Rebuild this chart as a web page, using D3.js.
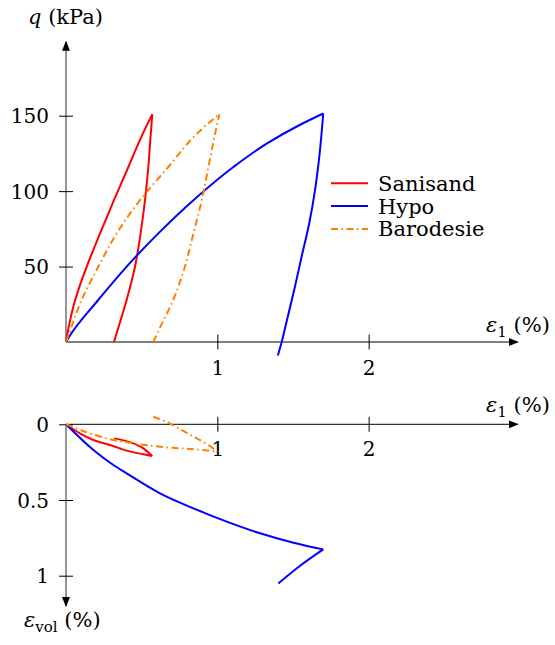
<!DOCTYPE html>
<html>
<head>
<meta charset="utf-8">
<script src="https://cdn.jsdelivr.net/npm/d3@7"></script>
<style>
    body { margin: 0; background: #fff; }
    svg text { font-family: "DejaVu Serif", serif; font-size: 20px; fill: #000; }
</style>
</head>
<body>
<svg id="chart" width="555" height="645"></svg>
<script>
// q - eps1 panel (eps1 in %, q in kPa)
const sanisandLoadEps = [0, 0.02, 0.05, 0.09, 0.137, 0.225, 0.317, 0.412, 0.507, 0.57];
const sanisandLoadQ = [0, 11, 24, 37, 50, 72, 94, 116, 138, 151];
const sanisandUnloadEps = [0.57, 0.56, 0.544, 0.522, 0.493, 0.456, 0.401, 0.335, 0.317];
const sanisandUnloadQ = [151, 138, 116, 94, 72, 50, 28, 6, 0];

const hypoLoadEps = [0, 0.037, 0.214, 0.401, 0.61, 0.842, 1.106, 1.326, 1.547, 1.70];
const hypoLoadQ = [0, 6, 28, 50, 72, 94, 116, 131.5, 144, 151.5];
const hypoUnloadEps = [1.70, 1.674, 1.646, 1.608, 1.558, 1.509, 1.454, 1.425, 1.40];
const hypoUnloadQ = [151.5, 123, 101, 79, 57, 35, 12, 0, -9];

const barodesieLoadEps = [0, 0.022, 0.104, 0.214, 0.335, 0.489, 0.676, 0.864, 1.013];
const barodesieLoadQ = [0, 6, 28, 50, 72, 94, 116, 138, 151];
const barodesieUnloadEps = [1.013, 0.985, 0.941, 0.897, 0.842, 0.786, 0.709, 0.604, 0.577];
const barodesieUnloadQ = [151, 138, 116, 94, 72, 50, 28, 6, 0];

// eps_vol - eps1 panel (both in %)
const sanisandVolLoadEps = [0, 0.092, 0.181, 0.291, 0.401, 0.511, 0.57];
const sanisandVolLoad = [0, 0.06, 0.104, 0.137, 0.174, 0.198, 0.21];
const sanisandVolUnloadEps = [0.57, 0.511, 0.445, 0.379, 0.317];
const sanisandVolUnload = [0.21, 0.159, 0.126, 0.106, 0.093];

const hypoVolLoadEps = [0, 0.181, 0.313, 0.401, 0.621, 0.842, 1.062, 1.282, 1.503, 1.70];
const hypoVolLoad = [0, 0.17, 0.269, 0.324, 0.456, 0.555, 0.643, 0.72, 0.782, 0.826];
const hypoVolUnloadEps = [1.70, 1.547, 1.403];
const hypoVolUnload = [0.826, 0.934, 1.051];

const barodesieVolLoadEps = [0, 0.159, 0.291, 0.401, 0.621, 0.842, 1.0];
const barodesieVolLoad = [0, 0.06, 0.099, 0.119, 0.148, 0.165, 0.18];
const barodesieVolUnloadEps = [1.0, 0.93, 0.84, 0.75, 0.687, 0.577];
const barodesieVolUnload = [0.18, 0.13, 0.08, 0.03, -0.005, -0.05];

const xTicks = [1, 2];
const qTicks = [50, 100, 150];
const volTicks = [0, 0.5, 1];

const names = ["Sanisand", "Hypo", "Barodesie"];
const colors = ["#ff0000", "#0000ff", "#ff8000"];
const dashes = [null, null, "7,3.5,1.5,3.5"];

const series = [
    {
        top: [[sanisandLoadEps, sanisandLoadQ], [sanisandUnloadEps, sanisandUnloadQ]],
        bottom: [[sanisandVolLoadEps, sanisandVolLoad], [sanisandVolUnloadEps, sanisandVolUnload]]
    },
    {
        top: [[hypoLoadEps, hypoLoadQ], [hypoUnloadEps, hypoUnloadQ]],
        bottom: [[hypoVolLoadEps, hypoVolLoad], [hypoVolUnloadEps, hypoVolUnload]]
    },
    {
        top: [[barodesieLoadEps, barodesieLoadQ], [barodesieUnloadEps, barodesieUnloadQ]],
        bottom: [[barodesieVolLoadEps, barodesieVolLoad], [barodesieVolUnloadEps, barodesieVolUnload]]
    }
];

const svg = d3.select("#chart");

const x = d3.scaleLinear().domain([0, 3]).range([66, 520]);
const yTop = d3.scaleLinear().domain([0, 150]).range([342, 115.7]);
const yBot = d3.scaleLinear().domain([0, 1]).range([424.3, 575.7]);

// arrow head
svg.append("defs")
    .append("marker")
    .attr("id", "arrow")
    .attr("markerUnits", "userSpaceOnUse")
    .attr("viewBox", "0 -5 10 10")
    .attr("refX", 9)
    .attr("refY", 0)
    .attr("markerWidth", 10)
    .attr("markerHeight", 10)
    .attr("orient", "auto")
    .append("path")
    .attr("d", "M0,-4L10,0L0,4Z")
    .attr("fill", "#000");

function axisLine(x1, y1, x2, y2, color, width) {
    svg.append("line")
        .attr("x1", x1).attr("y1", y1)
        .attr("x2", x2).attr("y2", y2)
        .attr("stroke", color)
        .attr("stroke-width", width)
        .attr("marker-end", "url(#arrow)");
}

// x axes
function xAxis(yPos, labelY) {
    const g = svg.append("g")
        .attr("transform", `translate(0,${yPos})`)
        .call(d3.axisBottom(x).tickValues(xTicks).tickFormat(d3.format("d")).tickSize(7.5));
    g.select(".domain").remove();
    g.selectAll(".tick line").attr("y1", -7.5).attr("y2", 7.5).attr("stroke", "#000");
    g.selectAll(".tick text")
        .attr("y", labelY).attr("dy", null)
        .style("font-family", "DejaVu Serif").style("font-size", "20px");
}

function yAxis(scale, ticks, fmt) {
    const g = svg.append("g")
        .attr("transform", `translate(${x(0)},0)`)
        .call(d3.axisLeft(scale).tickValues(ticks).tickFormat(fmt).tickSize(7));
    g.select(".domain").remove();
    g.selectAll(".tick line").attr("x1", -7).attr("x2", 7).attr("stroke", "#000");
    g.selectAll(".tick text")
        .attr("x", -17).attr("dy", "0.36em")
        .style("font-family", "DejaVu Serif").style("font-size", "20px");
}

// top panel axes
axisLine(x(0), yTop(0), x(0), yTop(199), "#707070", 1.5);
axisLine(x(0), yTop(0), x(2.985), yTop(0), "#000", 1);
xAxis(yTop(0), 33);
yAxis(yTop, qTicks, d3.format("d"));

// bottom panel axes
axisLine(x(0), yBot(0), x(0), yBot(1.2), "#707070", 1.5);
axisLine(x(0), yBot(0), x(2.985), yBot(0), "#000", 1);
xAxis(yBot(0), 32);
yAxis(yBot, volTicks, d3.format(""));

// curves: top branches are monotone in q, bottom branches monotone in eps1
const lineTop = d3.line()
    .x((d) => x(d[0]))
    .y((d) => yTop(d[1]))
    .curve(d3.curveMonotoneY);
const lineBot = d3.line()
    .x((d) => x(d[0]))
    .y((d) => yBot(d[1]))
    .curve(d3.curveMonotoneX);

function branch(eps, vals, key) {
    const pts = eps.map((e, k) => [e, vals[k]]);
    return pts.sort((a, b) => a[key] - b[key]);
}

function drawPath(pts, line, i) {
    svg.append("path")
        .datum(pts)
        .attr("fill", "none")
        .attr("stroke", colors[i])
        .attr("stroke-width", 2)
        .attr("stroke-linejoin", "round")
        .attr("stroke-dasharray", dashes[i])
        .attr("d", line);
}

series.forEach((s, i) => {
    s.top.forEach(([eps, vals]) => drawPath(branch(eps, vals, 1), lineTop, i));
    s.bottom.forEach(([eps, vals]) => drawPath(branch(eps, vals, 0), lineBot, i));
});

// axis titles
const qLabel = svg.append("text").attr("x", 28).attr("y", 24).style("font-size", "21px");
qLabel.append("tspan").style("font-style", "italic").text("q");
qLabel.append("tspan").text(" (kPa)");

function epsLabel(px, py, sub) {
    const t = svg.append("text").attr("x", px).attr("y", py).style("font-size", "21px");
    t.append("tspan").style("font-style", "italic").text("ε");
    t.append("tspan").attr("dy", 5).style("font-size", "15px").text(sub);
    t.append("tspan").attr("dy", -5).text(" (%)");
}
epsLabel(486, 331.7, "1");
epsLabel(486, 411.7, "1");
epsLabel(24, 627, "vol");

// legend
const legend = svg.append("g").attr("transform", "translate(331,183.3)");
names.forEach((n, i) => {
    const row = legend.append("g").attr("transform", `translate(0,${i * 22.8})`);
    row.append("line")
        .attr("x1", 0).attr("x2", 37)
        .attr("y1", 0).attr("y2", 0)
        .attr("stroke", colors[i])
        .attr("stroke-width", 2)
        .attr("stroke-dasharray", dashes[i]);
    row.append("text")
        .attr("x", 47)
        .attr("y", 7.5)
        .style("font-size", "21px")
        .text(n);
});
</script>
</body>
</html>
